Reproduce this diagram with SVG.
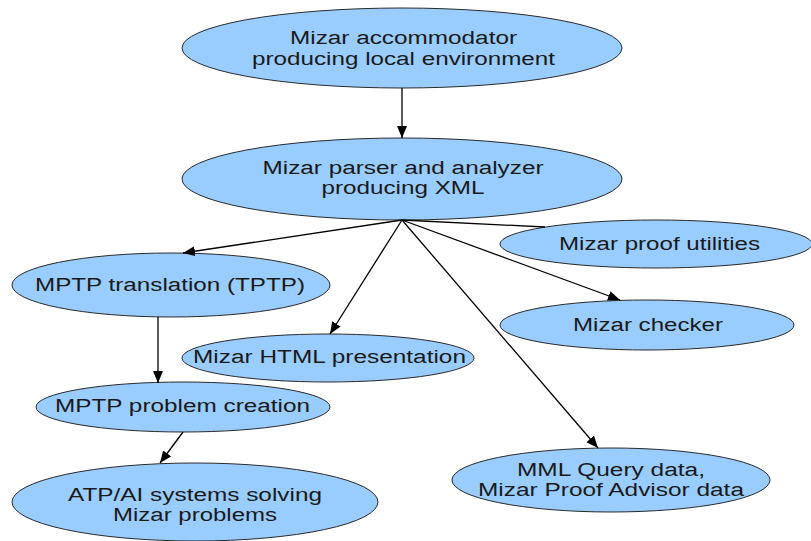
<svg xmlns="http://www.w3.org/2000/svg" width="811" height="541" viewBox="0 0 811 541">
<style>
.n ellipse{fill:#99ccff;stroke:#2a2a2a;stroke-width:1}
.n text{font-family:"Liberation Sans",Arial,sans-serif;font-size:18px;fill:#1a1a1a;text-anchor:middle}
.c line{stroke:#000;stroke-width:1.3;fill:none}
.c line.a{marker-end:url(#ah)}
</style>
<defs>
<marker id="ah" markerUnits="userSpaceOnUse" markerWidth="13" markerHeight="11" refX="12" refY="5" orient="auto" viewBox="0 0 13 11">
<path d="M0,0 L12,5 L0,10 z" fill="#000"/>
</marker>
</defs>
<rect width="811" height="541" fill="#fff"/>
<g class="n" id="accommodator">
<ellipse cx="402" cy="48" rx="220" ry="40"/>
<text x="403.5" y="44" textLength="227" lengthAdjust="spacingAndGlyphs">Mizar accommodator</text>
<text x="403.5" y="65" textLength="303" lengthAdjust="spacingAndGlyphs">producing local environment</text>
</g>
<g class="n" id="parser">
<ellipse cx="402" cy="179" rx="220" ry="41"/>
<text x="403" y="174" textLength="281" lengthAdjust="spacingAndGlyphs">Mizar parser and analyzer</text>
<text x="403" y="194" textLength="163" lengthAdjust="spacingAndGlyphs">producing XML</text>
</g>
<g class="n" id="utilities">
<ellipse cx="656" cy="244" rx="156" ry="24"/>
<text x="659.5" y="250" textLength="201" lengthAdjust="spacingAndGlyphs">Mizar proof utilities</text>
</g>
<g class="n" id="checker">
<ellipse cx="647" cy="325" rx="147" ry="25"/>
<text x="648" y="331" textLength="150" lengthAdjust="spacingAndGlyphs">Mizar checker</text>
</g>
<g class="n" id="translation">
<ellipse cx="171" cy="285" rx="159" ry="32"/>
<text x="170" y="291" textLength="270" lengthAdjust="spacingAndGlyphs">MPTP translation (TPTP)</text>
</g>
<g class="n" id="html">
<ellipse cx="328" cy="358" rx="146" ry="24"/>
<text x="329.5" y="363" textLength="273" lengthAdjust="spacingAndGlyphs">Mizar HTML presentation</text>
</g>
<g class="n" id="problem">
<ellipse cx="183" cy="407" rx="147" ry="25"/>
<text x="182.5" y="412" textLength="255" lengthAdjust="spacingAndGlyphs">MPTP problem creation</text>
</g>
<g class="n" id="atp">
<ellipse cx="195" cy="502" rx="183" ry="39"/>
<text x="195" y="501" textLength="254" lengthAdjust="spacingAndGlyphs">ATP/AI systems solving</text>
<text x="195" y="521" textLength="164" lengthAdjust="spacingAndGlyphs">Mizar problems</text>
</g>
<g class="n" id="mml">
<ellipse cx="611" cy="480" rx="159" ry="32"/>
<text x="611" y="476" textLength="188" lengthAdjust="spacingAndGlyphs">MML Query data,</text>
<text x="611" y="496" textLength="266" lengthAdjust="spacingAndGlyphs">Mizar Proof Advisor data</text>
</g>
<g class="c" id="connectors">
<line class="a" x1="402" y1="88" x2="402" y2="138"/>
<line class="a" x1="402" y1="220" x2="183" y2="253"/>
<line x1="402" y1="220" x2="545" y2="227"/>
<line class="a" x1="402" y1="220" x2="620" y2="300"/>
<line class="a" x1="402" y1="220" x2="330" y2="334"/>
<line class="a" x1="402" y1="220" x2="598" y2="448"/>
<line class="a" x1="158" y1="317" x2="158" y2="383"/>
<line class="a" x1="183" y1="432" x2="160" y2="463"/>
</g>
</svg>
